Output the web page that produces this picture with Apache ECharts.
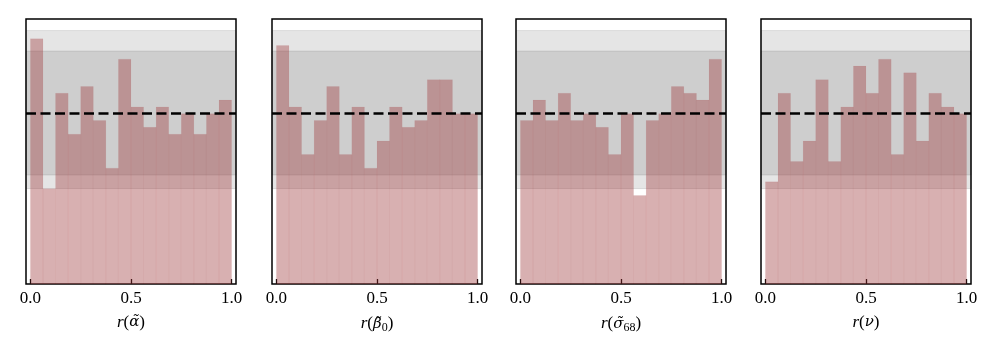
<!DOCTYPE html>
<html lang="en">
<head>
    <meta charset="UTF-8">
    <title>Rank histograms</title>
    <script src="https://cdn.jsdelivr.net/npm/echarts@6/dist/echarts.min.js"></script>
</head>
<body style="margin:0;background:#fff;">
<div id="main" style="width: 997px;height:353px;"></div>
<script>
    // bin edges of the rank histograms (16 bins on [0, 1])
    var binEdges = [0, 0.0625, 0.125, 0.1875, 0.25, 0.3125, 0.375, 0.4375, 0.5,
                    0.5625, 0.625, 0.6875, 0.75, 0.8125, 0.875, 0.9375, 1];
    var countsAlpha = [36, 14, 28, 22, 29, 24, 17, 33, 26, 23, 26, 22, 25, 22, 25, 27];
    var countsBeta0 = [35, 26, 19, 24, 29, 19, 26, 17, 21, 26, 23, 24, 30, 30, 25, 25];
    var countsSigma68 = [24, 27, 24, 28, 24, 25, 23, 19, 25, 13, 24, 25, 29, 28, 27, 33];
    var countsNu = [15, 28, 18, 21, 30, 18, 26, 32, 28, 33, 19, 31, 21, 28, 26, 25];
    var tickValues = [0, 0.5, 1];
    var tickLabels = ['0.0', '0.5', '1.0'];
    var expected = 25;
    var band99 = [14, 37.2];
    var band95 = [16, 34.2];

    var panels = [
        {counts: countsAlpha, name: '{i|r}{n|(}{g|α̃}{n|)}'},
        {counts: countsBeta0, name: '{i|r}{n|(}{g|β̃}{sub|0}{n|)}'},
        {counts: countsSigma68, name: '{i|r}{n|(}{g|σ̃}{sub|68}{n|)}'},
        {counts: countsNu, name: '{i|r}{n|(}{g|ν}{n|)}'}
    ];
    var lefts = [26, 272, 516, 761];
    var serif = '"Liberation Serif", "DejaVu Serif", serif';
    var greek = '"DejaVu Serif", serif';

    var myChart = echarts.init(document.getElementById('main'));
    var grid = [], xAxis = [], yAxis = [], series = [];

    panels.forEach(function (p, k) {
        grid.push({
            left: lefts[k], top: 19, width: 210, height: 265,
            show: true, borderColor: '#000', borderWidth: 1.5,
            backgroundColor: 'transparent'
        });
        xAxis.push({
            type: 'value', gridIndex: k, min: -0.022, max: 1.022,
            splitLine: {show: false},
            axisLine: {show: false},
            axisTick: {show: true, inside: true, length: 5, customValues: tickValues,
                lineStyle: {color: '#000', width: 1.3}},
            axisLabel: {
                customValues: tickValues, margin: 6,
                fontFamily: serif, fontSize: 17, color: '#000',
                formatter: function (v) {
                    var i = tickValues.indexOf(v);
                    return i >= 0 ? tickLabels[i] : '';
                }
            },
            name: p.name, nameLocation: 'middle', nameGap: 30,
            nameTextStyle: {
                rich: {
                    i: {fontFamily: serif, fontStyle: 'italic', fontSize: 17, color: '#000'},
                    g: {fontFamily: greek, fontStyle: 'italic', fontSize: 15, color: '#000'},
                    n: {fontFamily: serif, fontSize: 17, color: '#000'},
                    sub: {fontFamily: serif, fontSize: 12, color: '#000', padding: [8, 0, 0, 0]}
                }
            }
        });
        yAxis.push({
            type: 'value', gridIndex: k, min: 0, max: 38.9, show: false,
            splitLine: {show: false}
        });

        // bands
        series.push({
            type: 'line', xAxisIndex: k, yAxisIndex: k, data: [], z: 1, silent: true,
            markArea: {
                silent: true,
                itemStyle: {color: 'rgba(0,0,0,0.1)', borderColor: 'rgba(0,0,0,0.1)', borderWidth: 1},
                data: [
                    [{yAxis: band99[0]}, {yAxis: band99[1]}],
                    [{yAxis: band95[0]}, {yAxis: band95[1]}]
                ]
            }
        });

        // histogram bars
        var data = p.counts.map(function (c, i) {
            return [binEdges[i], binEdges[i + 1], c];
        });
        series.push({
            type: 'custom', xAxisIndex: k, yAxisIndex: k, z: 2, silent: true,
            encode: {x: [0, 1], y: 2},
            data: data,
            renderItem: function (params, api) {
                var a = api.coord([api.value(0), api.value(2)]);
                var b = api.coord([api.value(1), 0]);
                return {
                    type: 'rect',
                    shape: {x: a[0], y: a[1], width: b[0] - a[0], height: b[1] - a[1]},
                    style: {fill: 'rgba(158,58,60,0.4)', stroke: 'rgba(158,58,60,0.05)', lineWidth: 1}
                };
            }
        });

        // expected count
        series.push({
            type: 'line', xAxisIndex: k, yAxisIndex: k, data: [], z: 5, silent: true,
            markLine: {
                silent: true, symbol: 'none', label: {show: false},
                lineStyle: {type: [10, 4.5], color: '#000', width: 2.6},
                data: [{yAxis: expected}]
            }
        });
    });

    option = {
        animation: false,
        grid: grid,
        xAxis: xAxis,
        yAxis: yAxis,
        series: series
    };

    myChart.setOption(option);
</script>

</body>
</html>
